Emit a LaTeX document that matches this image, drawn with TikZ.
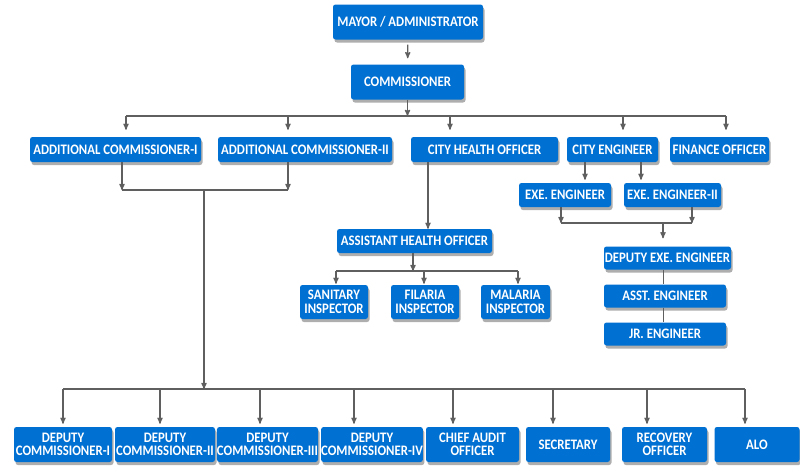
\documentclass[tikz,border=0pt]{standalone}
\usepackage{fontspec}
\setmainfont{Carlito}
\newfontfamily\officefont[FakeStretch=0.88]{Carlito}
\usetikzlibrary{arrows}
\usetikzlibrary{shadows}
\usetikzlibrary{positioning}
\definecolor{boxblue}{RGB}{0,112,210}
\definecolor{linegray}{RGB}{95,95,95}

\begin{document}
\begin{tikzpicture}[x=1pt,y=-1pt,>=stealth',
    office/.style={rounded corners=2.5pt,fill=boxblue,text=white,align=center,inner sep=0pt,
      font=\officefont\bfseries\fontsize{14.5}{13.5}\selectfont,
      drop shadow={shadow xshift=1.5pt,shadow yshift=-3pt,opacity=0.45,fill=black!70}},
    one line/.style={office,minimum height=25},
    two line/.style={office,minimum height=35},
    link/.style={draw=linegray,line width=1.2pt},
    drop/.style={link,->,shorten >=3pt}]
  \fill[white] (0,0) rectangle (800,474);
  \useasboundingbox (0,0) rectangle (800,474);

  % top
  \node[two line,minimum width=150] (mayor) at (408,22) {MAYOR / ADMINISTRATOR};
  \node[two line,minimum width=113] (comm) at (407.5,82) {COMMISSIONER};

  % second row
  \node[one line,minimum width=171] (ac1) at (115.5,149.5) {ADDITIONAL COMMISSIONER-I};
  \node[one line,minimum width=174] (ac2) at (305,149.5) {ADDITIONAL COMMISSIONER-II};
  \node[one line,minimum width=147] (cho) at (484.5,149.5) {CITY HEALTH OFFICER};
  \node[one line,minimum width=91] (ce) at (612.5,149.5) {CITY ENGINEER};
  \node[one line,minimum width=99] (fo) at (719.5,149.5) {FINANCE OFFICER};

  % engineers
  \node[one line,minimum width=92,minimum height=24] (exe1) at (565,195) {EXE. ENGINEER};
  \node[one line,minimum width=97,minimum height=24] (exe2) at (672.5,195) {EXE. ENGINEER-II};
  \node[one line,minimum width=127,minimum height=23] (dee) at (667.5,258) {DEPUTY EXE. ENGINEER};
  \node[one line,minimum width=122,minimum height=23] (asst) at (665,296) {ASST. ENGINEER};
  \node[one line,minimum width=122,minimum height=23] (jr) at (665,334) {JR. ENGINEER};

  % health
  \node[one line,minimum width=155,minimum height=24] (aho) at (414.5,241) {ASSISTANT HEALTH OFFICER};
  \node[two line,minimum width=68,minimum height=34] (san) at (334,302) {SANITARY\\INSPECTOR};
  \node[two line,minimum width=68,minimum height=34] (fil) at (425,302) {FILARIA\\INSPECTOR};
  \node[two line,minimum width=69,minimum height=34] (mal) at (515.5,302) {MALARIA\\INSPECTOR};

  % bottom row
  \node[two line,minimum width=98] (dc1) at (63,444.5) {DEPUTY\\COMMISSIONER-I};
  \node[two line,minimum width=100] (dc2) at (165,444.5) {DEPUTY\\COMMISSIONER-II};
  \node[two line,minimum width=99] (dc3) at (267.5,444.5) {DEPUTY\\COMMISSIONER-III};
  \node[two line,minimum width=100] (dc4) at (372,444.5) {DEPUTY\\COMMISSIONER-IV};
  \node[two line,minimum width=93] (cao) at (472.5,444.5) {CHIEF AUDIT\\OFFICER};
  \node[two line,minimum width=84] (sec) at (568,444.5) {SECRETARY};
  \node[two line,minimum width=85] (ro) at (664.5,444.5) {RECOVERY\\OFFICER};
  \node[two line,minimum width=85] (alo) at (757,444.5) {ALO};

  % junctions
  \coordinate (tac1) at (126,116);
  \coordinate (tac2) at (288,116);
  \coordinate (tcho) at (450,116);
  \coordinate (tce) at (623,116);
  \coordinate (tfo) at (726,116);
  \coordinate (mac1) at (122,190);
  \coordinate (mac2) at (288,190);
  \coordinate (mdown) at (204,190);
  \coordinate (bdown) at (204,389);
  \coordinate (bdc1) at (63,389);
  \coordinate (bdc2) at (160,389);
  \coordinate (bdc3) at (260,389);
  \coordinate (bdc4) at (354,389);
  \coordinate (bcao) at (453,389);
  \coordinate (bsec) at (553,389);
  \coordinate (bro) at (647,389);
  \coordinate (balo) at (745,389);
  \coordinate (hline) at (428,200);
  \coordinate (taho) at (413,271);
  \coordinate (tsan) at (336,271);
  \coordinate (tfil) at (424,271);
  \coordinate (tmal) at (518,271);
  \coordinate (ece1) at (585,170);
  \coordinate (ece2) at (641,170);
  \coordinate (mexe1) at (561,223);
  \coordinate (mexe2) at (692,223);
  \coordinate (mdee) at (663,223);

  % mayor and commissioner
  \draw[drop,shorten <=5pt,shorten >=6pt] (mayor) -- (comm);
  \draw[link,->] (comm) -- (comm |- tac1);
  \draw[link] (tac1) -- (tfo);
  \draw[drop,shorten >=7pt] (tac1) -- (tac1 |- ac1.north);
  \draw[drop,shorten >=7pt] (tac2) -- (tac2 |- ac2.north);
  \draw[drop,shorten >=7pt] (tcho) -- (tcho |- cho.north);
  \draw[drop,shorten >=7pt] (tce) -- (tce |- ce.north);
  \draw[drop,shorten >=7pt] (tfo) -- (tfo |- fo.north);

  % additional commissioners to the bottom row
  \draw[link,->] (ac1.south -| mac1) -- (mac1);
  \draw[link,->] (ac2.south -| mac2) -- (mac2);
  \draw[link] (mac1) -- (mac2);
  \draw[link,->] (mdown) -- (bdown);
  \draw[link] (bdc1) -- (balo);
  \draw[drop] (bdc1) -- (bdc1 |- dc1.north);
  \draw[drop] (bdc2) -- (bdc2 |- dc2.north);
  \draw[drop] (bdc3) -- (bdc3 |- dc3.north);
  \draw[drop] (bdc4) -- (bdc4 |- dc4.north);
  \draw[drop] (bcao) -- (bcao |- cao.north);
  \draw[drop] (bsec) -- (bsec |- sec.north);
  \draw[drop] (bro) -- (bro |- ro.north);
  \draw[drop] (balo) -- (balo |- alo.north);

  % health
  \draw[link,->] (cho.south -| hline) -- (aho.north -| hline);
  \draw[link,->] (aho.south -| taho) -- (taho);
  \draw[link] (tsan) -- (tmal);
  \draw[drop,shorten >=1pt] (tsan) -- (tsan |- san.north);
  \draw[drop,shorten >=1pt] (tfil) -- (tfil |- fil.north);
  \draw[drop,shorten >=1pt] (tmal) -- (tmal |- mal.north);

  % engineering
  \draw[drop] (ce.south -| ece1) -- (ece1 |- exe1.north);
  \draw[drop] (ce.south -| ece2) -- (ece2 |- exe2.north);
  \draw[link,->] (exe1.south -| mexe1) -- (mexe1);
  \draw[link,->] (exe2.south -| mexe2) -- (mexe2);
  \draw[link] (mexe1) -- (mexe2);
  \draw[drop,shorten >=8pt] (mdee) -- (mdee |- dee.north);
  \draw[link,line width=0.8pt] (dee.south -| mdee) -- (asst.north -| mdee);
  \draw[link,line width=0.8pt] (asst.south -| mdee) -- (jr.north -| mdee);
\end{tikzpicture}
\end{document}
